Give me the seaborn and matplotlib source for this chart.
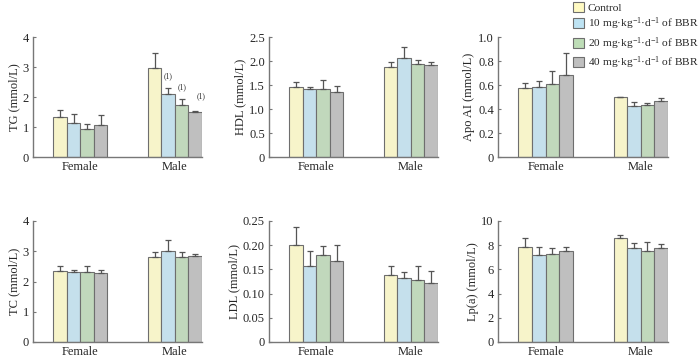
import numpy as np
import pandas as pd
import matplotlib
matplotlib.use("Agg")
import matplotlib.pyplot as plt
from matplotlib.patches import Patch
import seaborn as sns

sexes = ["Female", "Male"]
groups = ["Control",
          "10 mg·kg$^{-1}$·d$^{-1}$ of BBR",
          "20 mg·kg$^{-1}$·d$^{-1}$ of BBR",
          "40 mg·kg$^{-1}$·d$^{-1}$ of BBR"]
colors = ["#FFFAC2", "#BEE3F3", "#BEDDB7", "#BFBFBF"]

# mean values per group, [Female, Male]
tg_mean = [[1.35, 2.96], [1.15, 2.11], [0.92, 1.74], [1.08, 1.50]]
tg_err = [[0.22, 0.50], [0.27, 0.18], [0.18, 0.18], [0.31, 0.03]]
hdl_mean = [[1.45, 1.87], [1.42, 2.06], [1.42, 1.93], [1.35, 1.91]]
hdl_err = [[0.11, 0.11], [0.04, 0.24], [0.18, 0.10], [0.13, 0.06]]
apo_mean = [[0.575, 0.497], [0.583, 0.428], [0.605, 0.430], [0.682, 0.464]]
apo_err = [[0.042, 0.004], [0.052, 0.028], [0.110, 0.020], [0.188, 0.025]]
tc_mean = [[2.34, 2.82], [2.31, 3.00], [2.32, 2.82], [2.28, 2.83]]
tc_err = [[0.17, 0.14], [0.08, 0.36], [0.18, 0.15], [0.09, 0.08]]
ldl_mean = [[0.200, 0.138], [0.158, 0.132], [0.179, 0.129], [0.168, 0.122]]
ldl_err = [[0.038, 0.020], [0.031, 0.012], [0.020, 0.027], [0.033, 0.024]]
lpa_mean = [[7.85, 8.63], [7.21, 7.75], [7.26, 7.48], [7.48, 7.76]]
lpa_err = [[0.73, 0.19], [0.65, 0.47], [0.48, 0.77], [0.38, 0.38]]

panels = [
    ("TG (mmol/L)", tg_mean, tg_err, [0, 1, 2, 3, 4], ["0", "1", "2", "3", "4"]),
    ("HDL (mmol/L)", hdl_mean, hdl_err, [0, 0.5, 1.0, 1.5, 2.0, 2.5],
     ["0", "0.5", "1.0", "1.5", "2.0", "2.5"]),
    ("Apo AI (mmol/L)", apo_mean, apo_err, [0, 0.2, 0.4, 0.6, 0.8, 1.0],
     ["0", "0.2", "0.4", "0.6", "0.8", "1.0"]),
    ("TC (mmol/L)", tc_mean, tc_err, [0, 1, 2, 3, 4], ["0", "1", "2", "3", "4"]),
    ("LDL (mmol/L)", ldl_mean, ldl_err, [0, 0.05, 0.10, 0.15, 0.20, 0.25],
     ["0", "0.05", "0.10", "0.15", "0.20", "0.25"]),
    ("Lp(a) (mmol/L)", lpa_mean, lpa_err, [0, 2, 4, 6, 8, 10],
     ["0", "2", "4", "6", "8", "10"]),
]

sns.set_style("ticks")
plt.rcParams["font.family"] = ["Liberation Serif", "DejaVu Serif"]
plt.rcParams["mathtext.fontset"] = "custom"
plt.rcParams["mathtext.rm"] = "Liberation Serif"
plt.rcParams["mathtext.it"] = "Liberation Serif:italic"
plt.rcParams["mathtext.default"] = "rm"
plt.rcParams["font.size"] = 9

fig = plt.figure(figsize=(7, 3.61), dpi=100)
W, H = 700, 361
lefts = [33, 269, 498]
rights = [202, 438, 668]
tops = [37, 221]
bottoms = [157, 342]

edge = "#6E6E6E"
for k, (label, mean, err, ticks, ticklabels) in enumerate(panels):
    r, c = divmod(k, 3)
    ax = fig.add_axes([lefts[c] / W, 1 - bottoms[r] / H,
                       (rights[c] - lefts[c]) / W, (bottoms[r] - tops[r]) / H])
    df = pd.DataFrame([(s, g, mean[i][j], err[i][j])
                       for i, g in enumerate(groups)
                       for j, s in enumerate(sexes)],
                      columns=["sex", "group", "value", "err"])
    sns.barplot(data=df, x="sex", y="value", hue="group", order=sexes,
                hue_order=groups, palette=colors, width=0.57, errorbar=None,
                edgecolor=edge, linewidth=0.8, legend=False, ax=ax)
    bar_conts = list(ax.containers)
    for i, cont in enumerate(bar_conts):
        for j, bar in enumerate(cont):
            xc = bar.get_x() + bar.get_width() / 2
            ax.errorbar(xc, bar.get_height(), yerr=[[0], [err[i][j]]],
                        fmt="none", ecolor="#555555", elinewidth=0.9,
                        capsize=2.5, capthick=0.9, zorder=1)
            if k == 0 and j == 1 and i > 0:
                dx = 4 if i == 3 else 0
                ax.annotate("(1)", (xc, mean[i][j] + err[i][j]),
                            xytext=(dx, 6 if i < 3 else 8),
                            textcoords="offset points", ha="center",
                            va="bottom", fontsize=5.5)
    ax.set_xlim(-0.5, 1.287)
    ax.set_ylim(ticks[0], ticks[-1])
    ax.set_yticks(ticks)
    ax.set_yticklabels(ticklabels)
    ax.set_xlabel("")
    ax.set_ylabel(label, labelpad=2)
    ax.tick_params(axis="y", direction="in", length=2, width=0.8,
                   color="#777777", pad=3)
    ax.tick_params(axis="x", length=0, pad=3)
    sns.despine(ax=ax)
    for sp in ["left", "bottom"]:
        ax.spines[sp].set_color("#777777")
        ax.spines[sp].set_linewidth(1.0)

handles = [Patch(facecolor=col, edgecolor=edge, linewidth=0.8) for col in colors]
fig.legend(handles, groups, loc="upper left", bbox_to_anchor=(572 / W, 1 - 1 / H),
           frameon=False, fontsize=8.2, handlelength=0.95, handleheight=0.95,
           handletextpad=0.35, labelspacing=0.25, borderaxespad=0, borderpad=0.1)

fig.savefig("out.png", dpi=100)
